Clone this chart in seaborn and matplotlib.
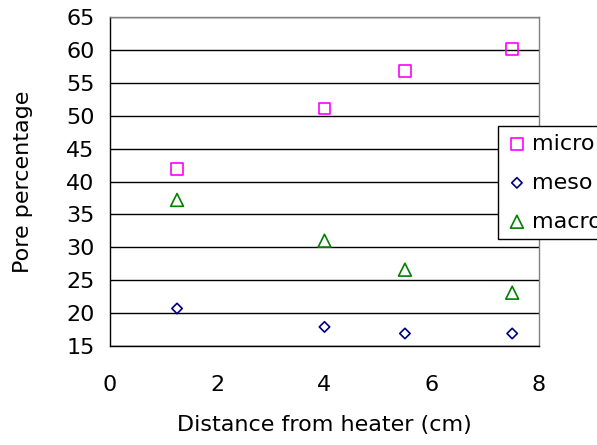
import matplotlib
matplotlib.use("Agg")
import matplotlib.pyplot as plt
import seaborn as sns
import pandas as pd

distance = [1.25, 4.0, 5.5, 7.5]
micro = [41.9, 51.1, 56.8, 60.1]
meso = [20.7, 17.9, 16.9, 16.9]
macro = [37.2, 31.0, 26.6, 23.1]

series = {"micro": micro, "meso": meso, "macro": macro}
rows = []
for name, vals in series.items():
    for d, v in zip(distance, vals):
        rows.append({"distance": d, "value": v, "series": name})
df = pd.DataFrame(rows)

sns.set_style("white")
plt.rcParams["font.family"] = ["DejaVu Sans"]
plt.rcParams["text.color"] = "black"
plt.rcParams["axes.labelcolor"] = "black"
plt.rcParams["xtick.color"] = "black"
plt.rcParams["ytick.color"] = "black"

fig = plt.figure(figsize=(5.97, 4.45), dpi=100)
ax = fig.add_axes([110/597, 1-346/445, (539-110)/597, (346-17)/445])

palette = {"micro": "#FF00FF", "meso": "#000080", "macro": "#008000"}
markers = {"micro": "s", "meso": "D", "macro": "^"}
sizes = {"micro": 70, "meso": 28, "macro": 85}

for name in ["micro", "meso", "macro"]:
    sub = df[df["series"] == name]
    sns.scatterplot(data=sub, x="distance", y="value", ax=ax, marker=markers[name],
                    s=sizes[name], facecolors="none", edgecolor=palette[name],
                    linewidth=1.2, label=name, legend=False)

ax.set_xlim(0, 8)
ax.set_ylim(15, 65)
ax.set_xticks([0, 2, 4, 6, 8])
ax.set_yticks(list(range(15, 70, 5)))
ax.yaxis.grid(True, color="black", linewidth=1.0)
ax.set_axisbelow(True)
for s in ["top", "right"]:
    ax.spines[s].set_color("#808080")
ax.spines["left"].set_color("black")
ax.spines["bottom"].set_color("black")
for s in ax.spines.values():
    s.set_linewidth(1.0)
ax.tick_params(axis="both", direction="out", length=7, width=1, color="#808080",
               labelsize=16, pad=4, labelcolor="black")
ax.tick_params(axis="x", pad=14)
ax.set_xlabel("Distance from heater (cm)", fontsize=16, labelpad=14, color="black")
ax.set_ylabel("Pore percentage", fontsize=16, labelpad=24, color="black")

handles, labels = ax.get_legend_handles_labels()
leg = fig.legend(handles, labels, loc="upper left", bbox_to_anchor=(498/597, 1-126/445),
                 fontsize=16, frameon=True, fancybox=False, edgecolor="black",
                 framealpha=1, handletextpad=0.2, borderpad=0.35, labelspacing=0.85,
                 handlelength=1.0, borderaxespad=0)
leg.get_frame().set_linewidth(1.0)
for t in leg.get_texts():
    t.set_color("black")

fig.savefig("out.png", dpi=100)
